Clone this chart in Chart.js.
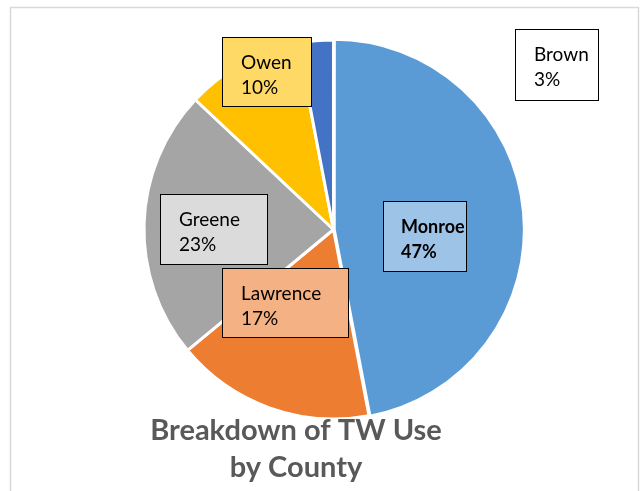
<!DOCTYPE html>
<html>
<head>
<meta charset="utf-8">
<script src="https://cdn.jsdelivr.net/npm/chart.js@4/dist/chart.umd.min.js"></script>
<style>
  html, body { margin: 0; padding: 0; background: #fff; }
  #wrap { width: 642px; height: 491px; position: relative; }
</style>
</head>
<body>
<div id="wrap"><canvas id="grafico"></canvas></div>
<script>
// data, clockwise from 12 o'clock
const condados = ["Monroe", "Lawrence", "Greene", "Owen", "Brown"];
const porcentajes = [47, 17, 23, 10, 3];
const coloresSector = ["#5B9BD5", "#ED7D31", "#A5A5A5", "#FFC000", "#4472C4"];
const coloresCaja = ["#9DC3E6", "#F4B183", "#DBDBDB", "#FFD966", "#FFFFFF"];
const tituloLineas = ["Breakdown of TW Use", "by County"];

// where Excel left each label box (layout only)
const cajas = [
  { x: 383, y: 201, w: 83, h: 70, bold: true },
  { x: 222, y: 268, w: 126, h: 69 },
  { x: 160, y: 194, w: 107, h: 70 },
  { x: 222, y: 37, w: 89, h: 69 },
  { x: 515, y: 29, w: 83, h: 71 }
];

const FUENTE = "Lato, 'DejaVu Sans', sans-serif";

const marcoYEtiquetas = {
  id: "marcoYEtiquetas",
  beforeDraw(chart) {
    const ctx = chart.ctx;
    ctx.save();
    ctx.fillStyle = "#fff";
    ctx.fillRect(0, 0, chart.width, chart.height);
    ctx.strokeStyle = "#D9D9D9";
    ctx.lineWidth = 1.5;
    ctx.strokeRect(10.5, 7.5, 628, 520);
    ctx.restore();
  },
  afterDraw(chart) {
    const ctx = chart.ctx;
    ctx.save();
    cajas.forEach((c, i) => {
      ctx.fillStyle = coloresCaja[i];
      ctx.fillRect(c.x, c.y, c.w, c.h);
      ctx.strokeStyle = "#000";
      ctx.lineWidth = 1;
      ctx.strokeRect(c.x + 0.5, c.y + 0.5, c.w, c.h);
      ctx.fillStyle = "#000";
      ctx.font = (c.bold ? "bold 18px " : "19px ") + FUENTE;
      ctx.textBaseline = "alphabetic";
      ctx.textAlign = "left";
      ctx.fillText(condados[i], c.x + (c.bold ? 18 : 19), c.y + 32);
      ctx.fillText(porcentajes[i] + "%", c.x + (c.bold ? 18 : 19), c.y + 57);
    });
    ctx.fillStyle = "#595959";
    ctx.font = "bold 29px " + FUENTE;
    ctx.textAlign = "center";
    ctx.fillText(tituloLineas[0], 296, 440);
    ctx.fillText(tituloLineas[1], 296, 477);
    ctx.restore();
  }
};

new Chart(document.getElementById("grafico"), {
  type: "pie",
  data: {
    labels: condados,
    datasets: [{
      data: porcentajes,
      backgroundColor: coloresSector,
      borderColor: "#fff",
      borderWidth: 3,
      offset: [3, 0, 0, 0, 0]
    }]
  },
  options: {
    responsive: true,
    maintainAspectRatio: false,
    animation: false,
    layout: { padding: { left: 141, right: 116, top: 37, bottom: 69 } },
    plugins: {
      legend: { display: false },
      tooltip: { enabled: false },
      title: { display: false }
    }
  },
  plugins: [marcoYEtiquetas]
});
</script>
</body>
</html>
